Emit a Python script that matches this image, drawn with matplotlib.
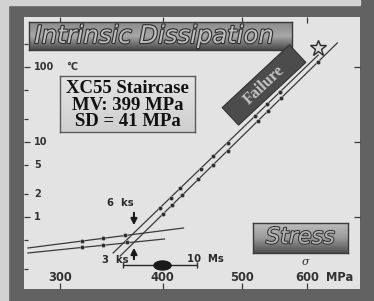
import numpy as np
import matplotlib
matplotlib.use('Agg')
import matplotlib.pyplot as plt
from matplotlib.patches import Rectangle
from matplotlib.markers import MarkerStyle
from matplotlib.transforms import Affine2D, IdentityTransform
from matplotlib.colors import LinearSegmentedColormap
import matplotlib.patheffects as pe

# ---------------- data ----------------
x_ticks = [300, 400, 500, 600]
x_tick_labels = ['300', '400', '500', '600']
x_unit = 'MPa'
y_major = [1, 10, 100]
y_minor = [0.2, 0.5, 2, 5, 20, 50, 200]
y_tick_vals = [1, 2, 5, 10, 100]
y_tick_labels = ['1', '2', '5', '10', '100']
y_unit = '°C'

# low-stress regime (two tests)
low1_x = [274, 424]
low1_y = [0.386, 0.713]
low1_pts_x = [319, 338, 360]
low1_pts_y = [0.48, 0.52, 0.57]
low2_x = [274, 402]
low2_y = [0.331, 0.509]
low2_pts_x = [319, 338, 362]
low2_pts_y = [0.40, 0.42, 0.46]

# high-stress regime (two tests)
high1_x = [348, 619]
high1_y = [0.331, 144.5]
high1_pts_x = [397, 409, 420, 445, 461, 480, 519, 536, 556]
high1_pts_y = [1.335, 1.80, 2.41, 4.37, 6.43, 9.73, 22.4, 31.9, 46.9]
high2_x = [355, 653]
high2_y = [0.302, 209]
high2_pts_x = [400.6, 410.7, 422.6, 442, 461, 480, 522, 538, 558, 619]
high2_pts_y = [1.10, 1.445, 1.96, 3.17, 4.98, 7.59, 18.8, 26.1, 38.6, 118]

failure_x = [619]
failure_y = [179]

mv = 399
sd = 41
staircase_y = 0.229

arrow_x = 369
arrow_down = (1.24, 0.713)
arrow_up = (0.251, 0.423)

# ---------------- figure ----------------
W, H = 374, 301
fig = plt.figure(figsize=(W / 100, H / 100), dpi=100)
fig.patch.set_facecolor('#626262')
fig.add_artist(Rectangle((0, 0), 8 / W, 1, transform=fig.transFigure,
                         color='#d2d2d2', zorder=0))
fig.add_artist(Rectangle((0, 1 - 5 / H), 360 / W, 5 / H, transform=fig.transFigure,
                         color='#d2d2d2', zorder=0))

ax = fig.add_axes([24 / W, 1 - 289 / H, 336 / W, 272 / H])
ax.set_xscale('log')
ax.set_yscale('log')
ax.set_xlim(271, 696)
ax.set_ylim(0.1096, 464)
ax.set_facecolor('#e3e3e3')
for s in ax.spines.values():
    s.set_visible(False)

ax.set_xticks(x_ticks)
ax.set_xticks([], minor=True)
ax.set_yticks(y_major)
ax.set_yticks(y_minor, minor=True)
ax.tick_params(which='both', direction='in', length=4, width=0.9, color='#3a3a3a',
               top=True, right=True, labelbottom=False, labelleft=False)
ax.tick_params(which='minor', right=False, length=3)

xlab = dict(fontsize=8.3, fontweight='bold', color='#333333', family='DejaVu Sans')
ylab = dict(fontsize=7, fontweight='bold', color='#333333', family='DejaVu Sans')
xt = ax.get_xaxis_transform()
for v, t in zip(x_ticks, x_tick_labels):
    ax.text(v, 0.042, t, transform=xt, ha='center', va='center', **xlab)
ax.text(0.94, 0.042, x_unit, transform=ax.transAxes, ha='center', va='center', **xlab)
yt = ax.get_yaxis_transform()
for v, t in zip(y_tick_vals, y_tick_labels):
    ax.text(0.030, v, t, transform=yt, ha='left', va='center', **ylab)
ax.text(0.125, 100, y_unit, transform=yt, ha='left', va='center', **ylab)

lc = '#3a3a3a'
mk = dict(marker='o', ms=3, mfc='#2a2a2a', mec='#bbbbbb', mew=0.4, ls='none', zorder=4)
ax.plot(low1_x, low1_y, color=lc, lw=0.9)
ax.plot(low2_x, low2_y, color=lc, lw=0.9)
ax.plot(low1_pts_x, low1_pts_y, **mk)
ax.plot(low2_pts_x, low2_pts_y, **mk)
ax.plot(high1_x, high1_y, color=lc, lw=0.9)
ax.plot(high2_x, high2_y, color=lc, lw=0.9)
ax.plot(high1_pts_x, high1_pts_y, **mk)
ax.plot(high2_pts_x, high2_pts_y, **mk)
ax.plot(failure_x, failure_y, marker='*', ms=12, mfc='#dddddd', mec='#2a2a2a',
        mew=1.0, ls='none', zorder=5)

# staircase mean +/- SD
ax.errorbar([mv], [staircase_y], xerr=[[sd], [sd]], fmt='none', ecolor='#2a2a2a',
            elinewidth=1.0, capsize=2, capthick=1.0)
ell = MarkerStyle('o', transform=Affine2D().scale(1.9, 1.0))
ax.plot([mv], [staircase_y], marker=ell, ms=6.5, color='#1a1a1a', ls='none', zorder=5)

ax.annotate('', xy=(arrow_x, arrow_down[1]), xytext=(arrow_x, arrow_down[0]),
            arrowprops=dict(arrowstyle='-|>', color='#1a1a1a', lw=1.5, mutation_scale=9))
ax.annotate('', xy=(arrow_x, arrow_up[1]), xytext=(arrow_x, arrow_up[0]),
            arrowprops=dict(arrowstyle='-|>', color='#1a1a1a', lw=1.5, mutation_scale=9))
ann = dict(fontsize=7.2, fontweight='bold', color='#2a2a2a', ha='center', va='center')
ax.text(355, 1.54, '6  ks', **ann)
ax.text(350, 0.267, '3  ks', **ann)
ax.text(451, 0.275, '10  Ms', **ann)
ax.text(597, 0.25, 'σ', fontsize=8, color='#2a2a2a', ha='center', va='center',
        style='italic', family='DejaVu Serif')


def grad_box(rect, colors, edge):
    a = fig.add_axes(rect)
    g = np.linspace(0, 1, 64).reshape(-1, 1)
    cmap = LinearSegmentedColormap.from_list('g', colors)
    a.imshow(g, aspect='auto', cmap=cmap, extent=[0, 1, 0, 1], origin='upper')
    a.set_xlim(0, 1)
    a.set_ylim(0, 1)
    a.set_xticks([])
    a.set_yticks([])
    for s in a.spines.values():
        s.set_color(edge)
        s.set_linewidth(1.0)
    return a


# title banner
tb = grad_box([29 / W, 1 - 50 / H, 263 / W, 28 / H], ['#8a8a8a', '#a8a8a8', '#484848'], '#3a3a3a')
tb.text(0.475, 0.50, 'Intrinsic Dissipation', fontsize=17.5, style='italic',
        family='DejaVu Sans', color='#bcbcbc', ha='center', va='center',
        path_effects=[pe.withStroke(linewidth=1.6, foreground='#2e2e2e')])

# stats box
sb = grad_box([60 / W, 1 - 132 / H, 135 / W, 56 / H], ['#e4e4e4', '#cfcfcf'], '#5a5a5a')
st = dict(fontsize=13.5, fontweight='bold', family='Liberation Serif', color='#111111',
          ha='center', va='center')
sb.text(0.5, 0.78, 'XC55 Staircase', **st)
sb.text(0.5, 0.47, 'MV: 399 MPa', **st)
sb.text(0.5, 0.18, 'SD = 41 MPa', **st)

# stress box
rb = grad_box([253 / W, 1 - 253 / H, 95 / W, 30 / H], ['#bdbdbd', '#9a9a9a', '#505050'], '#3a3a3a')
rb.text(0.5, 0.52, 'Stress', fontsize=16, style='italic', family='DejaVu Sans',
        color='#b4b4b4', ha='center', va='center',
        path_effects=[pe.withStroke(linewidth=1.4, foreground='#2e2e2e')])

# failure tag
cx, cy = 264, H - 85
fig.add_artist(Rectangle((cx - 46, cy - 12), 92, 24, angle=43, rotation_point='center',
                         transform=IdentityTransform(), facecolor='#4c4c4c',
                         edgecolor='#333333', lw=0.8, zorder=6))
fig.text(cx, cy, 'Failure', transform=IdentityTransform(), rotation=43,
         fontsize=11.5, fontweight='bold', family='Liberation Serif', color='#c4c4c4',
         ha='center', va='center', rotation_mode='anchor', zorder=7)

fig.savefig('out.png', dpi=100)
